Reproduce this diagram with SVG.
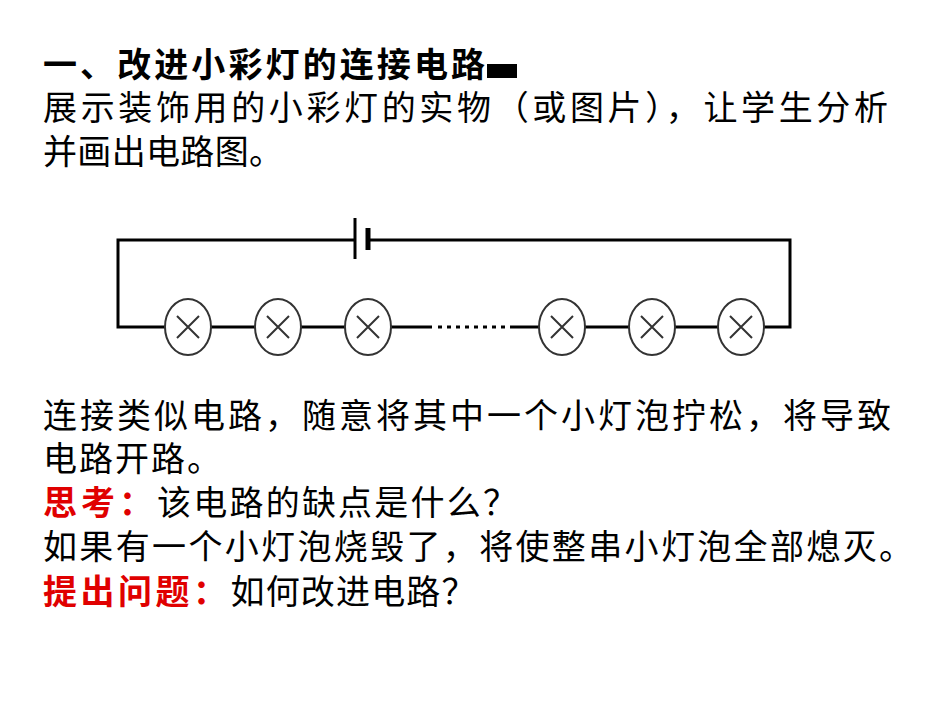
<svg xmlns="http://www.w3.org/2000/svg" width="950" height="713" viewBox="0 0 950 713">
<style>
text{font-family:"Noto Sans CJK SC","Noto Sans CJK JP",sans-serif;font-size:34px;fill:#000}
.b{font-weight:bold}
.r{fill:#e00000;font-weight:bold}
.w{stroke:#000;stroke-width:3;fill:none}
.l{fill:#fff;stroke:#333;stroke-width:2}
.x{stroke:#333;stroke-width:2}
</style>
<rect width="950" height="713" fill="#fff"/>
<g id="text">
<text x="43" y="77" class="b" textLength="442">一、改进小彩灯的连接电路</text>
<rect x="487" y="68" width="30" height="10" fill="#000"/>
<rect x="487" y="64" width="30" height="4" fill="#000"/>
<text x="43" y="120" textLength="845">展示装饰用的小彩灯的实物（或图片），让学生分析</text>
<text x="43" y="164" textLength="240">并画出电路图。</text>
<text x="43" y="428" textLength="848">连接类似电路，随意将其中一个小灯泡拧松，将导致</text>
<text x="43" y="471" textLength="178">电路开路。</text>
<text x="43" y="515"><tspan class="r" textLength="110">思考：</tspan><tspan textLength="360">该电路的缺点是什么？</tspan></text>
<text x="43" y="559" textLength="870">如果有一个小灯泡烧毁了，将使整串小灯泡全部熄灭。</text>
<text x="43" y="604"><tspan class="r" textLength="184">提出问题：</tspan><tspan textLength="245">如何改进电路？</tspan></text>
</g>
<g id="connectors">
<polyline class="w" points="355,240 118,240 118,327 165,327"/>
<polyline class="w" points="369,240 790,240 790,327 764,327"/>
<line class="w" x1="355" y1="218" x2="355" y2="259"/>
<line x1="368" y1="228" x2="368" y2="250" stroke="#000" stroke-width="5"/>
<line class="w" x1="211" y1="327" x2="255" y2="327"/>
<line class="w" x1="301" y1="327" x2="345" y2="327"/>
<line class="w" x1="391" y1="327" x2="432" y2="327"/>
<line x1="438" y1="327" x2="505" y2="327" stroke="#000" stroke-width="3" stroke-dasharray="4,5"/>
<line class="w" x1="510" y1="327" x2="539" y2="327"/>
<line class="w" x1="585" y1="327" x2="629" y2="327"/>
<line class="w" x1="675" y1="327" x2="718" y2="327"/>
</g>
<defs>
<g id="lamp"><ellipse class="l" cx="0" cy="0" rx="23" ry="28"/><path class="x" d="M-11,-11L11,11M11,-11L-11,11"/></g>
</defs>
<g id="lamp1"><use href="#lamp" x="188" y="327"/></g>
<g id="lamp2"><use href="#lamp" x="278" y="327"/></g>
<g id="lamp3"><use href="#lamp" x="368" y="327"/></g>
<g id="lamp4"><use href="#lamp" x="562" y="327"/></g>
<g id="lamp5"><use href="#lamp" x="652" y="327"/></g>
<g id="lamp6"><use href="#lamp" x="741" y="327"/></g>
</svg>
